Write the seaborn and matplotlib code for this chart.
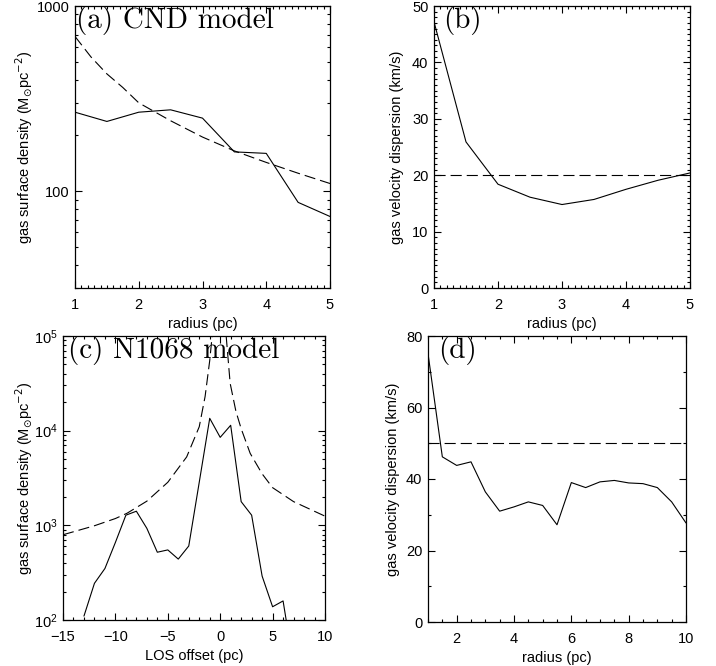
import matplotlib
matplotlib.use('Agg')
import matplotlib.pyplot as plt
from matplotlib import ticker
import seaborn as sns

# ---- panel (a): CND model, surface density ----
radius_a = [1.0, 1.5, 2.0, 2.5, 3.0, 3.5, 4.0, 4.5, 5.0]
sigma_a = [267, 238, 267, 275, 248, 163, 160, 87, 73]
model_r_a = [1.0, 1.25, 1.5, 1.75, 2.0, 2.5, 3.0, 3.5, 4.0, 4.5, 5.0]
model_sigma_a = [685, 531, 430, 363, 300, 240, 196, 165, 143, 125, 110]

# ---- panel (b): CND model, velocity dispersion ----
radius_b = [1.0, 1.5, 2.0, 2.5, 3.0, 3.5, 4.0, 4.5, 5.0]
disp_b = [47.2, 25.9, 18.4, 16.1, 14.8, 15.7, 17.5, 19.1, 20.4]
disp_ref_b = 20

# ---- panel (c): N1068 model, surface density along LOS ----
offset_c = [-13, -12, -11, -10, -9, -8, -7, -6, -5, -4, -3, -2, -1,
            0, 1, 2, 3, 4, 5, 6, 7]
sigma_c = [110, 244, 350, 660, 1280, 1410, 930, 520, 550, 440, 605, 2850,
           13500, 8500, 11400, 1780, 1280, 291, 138, 159, 33]
model_left_x = [-15, -12, -10, -8.9, -7, -5, -3.2, -2, -1.44, -1.0, -0.77]
model_left_y = [795, 990, 1180, 1340, 1800, 2850, 5280, 11000, 23000, 55000, 100000]
model_right_x = [0.57, 0.95, 1.5, 2.0, 2.86, 4, 5, 7, 10]
model_right_y = [100000, 31600, 16000, 10500, 5760, 3500, 2500, 1780, 1250]

# ---- panel (d): N1068 model, velocity dispersion ----
radius_d = [1.0, 1.5, 2.0, 2.5, 3.0, 3.5, 4.0, 4.5, 5.0, 5.5, 6.0, 6.5,
            7.0, 7.5, 8.0, 8.5, 9.0, 9.5, 10.0]
disp_d = [75.1, 46.2, 43.8, 44.8, 36.4, 31.0, 32.2, 33.6, 32.6, 27.2, 39.0,
          37.6, 39.2, 39.6, 38.9, 38.7, 37.6, 33.6, 27.7]
disp_ref_d = 50

sns.set_theme(style='white', rc={
    'axes.edgecolor': 'black',
    'axes.linewidth': 0.9,
    'xtick.color': 'black',
    'ytick.color': 'black',
    'axes.labelcolor': 'black',
    'text.color': 'black',
    'lines.scale_dashes': False,
})
plt.rcParams['font.family'] = ['Liberation Sans', 'DejaVu Sans']

LW = 0.8
DASH = (0, (8, 3.6))
SURF_LABEL = r'gas surface density (M$_{\odot}$pc$^{-2}$)'
DISP_LABEL = 'gas velocity dispersion (km/s)'

fig = plt.figure(figsize=(7.16, 6.66), dpi=100)
W, H = 716, 666


def add_ax(x0, y0, x1, y1):
    return fig.add_axes([x0 / W, 1 - y1 / H, (x1 - x0) / W, (y1 - y0) / H])


def style(ax, ylab_x):
    ax.tick_params(which='both', direction='in', top=True, right=True,
                   bottom=True, left=True, labelsize=10.5, width=0.8)
    ax.tick_params(which='major', length=5)
    ax.tick_params(which='minor', length=2.5)
    ax.tick_params(axis='x', pad=7)
    ax.tick_params(axis='y', pad=4)
    for s in ax.spines.values():
        s.set_visible(True)
    ax.yaxis.set_label_coords(ylab_x, 0.5)


def panel_label(ax, text, dx):
    ax.text(dx, 1.0, text, transform=ax.transAxes, ha='left', va='top',
            fontsize=21, family='cmr10')


ax_a = add_ax(75, 6, 330, 288)
ax_b = add_ax(434, 6, 690, 288)
ax_c = add_ax(63, 336, 325, 620)
ax_d = add_ax(428, 336, 686, 622)

# (a)
ax_a.set_yscale('log')
sns.lineplot(x=radius_a, y=sigma_a, ax=ax_a, color='black', lw=LW)
sns.lineplot(x=model_r_a, y=model_sigma_a, ax=ax_a, color='black', lw=LW,
             linestyle=DASH)
ax_a.set_xlim(1, 5)
ax_a.set_ylim(30, 1000)
ax_a.xaxis.set_major_locator(ticker.MultipleLocator(1))
ax_a.xaxis.set_minor_locator(ticker.MultipleLocator(0.1))
ax_a.yaxis.set_major_locator(ticker.FixedLocator([100, 1000]))
ax_a.yaxis.set_major_formatter(ticker.FormatStrFormatter('%d'))
ax_a.yaxis.set_minor_locator(ticker.LogLocator(subs=range(2, 10)))
ax_a.yaxis.set_minor_formatter(ticker.NullFormatter())
ax_a.set_xlabel('radius (pc)', fontsize=10.5, labelpad=4)
ax_a.set_ylabel(SURF_LABEL, fontsize=10.5)
style(ax_a, -0.155)
panel_label(ax_a, '(a) CND model', 0.003)

# (b)
sns.lineplot(x=radius_b, y=disp_b, ax=ax_b, color='black', lw=LW)
ax_b.axhline(disp_ref_b, color='black', lw=LW, linestyle=DASH)
ax_b.set_xlim(1, 5)
ax_b.set_ylim(0, 50)
ax_b.xaxis.set_major_locator(ticker.MultipleLocator(1))
ax_b.xaxis.set_minor_locator(ticker.MultipleLocator(0.1))
ax_b.yaxis.set_major_locator(ticker.MultipleLocator(10))
ax_b.yaxis.set_minor_locator(ticker.MultipleLocator(1))
ax_b.set_xlabel('radius (pc)', fontsize=10.5, labelpad=4)
ax_b.set_ylabel(DISP_LABEL, fontsize=10.5)
style(ax_b, -0.117)
panel_label(ax_b, '(b)', 0.035)

# (c)
ax_c.set_yscale('log')
sns.lineplot(x=offset_c, y=sigma_c, ax=ax_c, color='black', lw=LW)
sns.lineplot(x=model_left_x, y=model_left_y, ax=ax_c, color='black', lw=LW,
             linestyle=DASH)
sns.lineplot(x=model_right_x, y=model_right_y, ax=ax_c, color='black', lw=LW,
             linestyle=DASH)
ax_c.set_xlim(-15, 10)
ax_c.set_ylim(100, 1e5)
ax_c.xaxis.set_major_locator(ticker.MultipleLocator(5))
ax_c.xaxis.set_minor_locator(ticker.MultipleLocator(1))
ax_c.yaxis.set_minor_locator(ticker.LogLocator(subs=range(2, 10)))
ax_c.yaxis.set_minor_formatter(ticker.NullFormatter())
ax_c.set_xlabel('LOS offset (pc)', fontsize=10.5, labelpad=4)
ax_c.set_ylabel(SURF_LABEL, fontsize=10.5)
style(ax_c, -0.108)
panel_label(ax_c, '(c) N1068 model', 0.018)

# (d)
sns.lineplot(x=radius_d, y=disp_d, ax=ax_d, color='black', lw=LW)
ax_d.axhline(disp_ref_d, color='black', lw=LW, linestyle=DASH)
ax_d.set_xlim(1, 10)
ax_d.set_ylim(0, 80)
ax_d.xaxis.set_major_locator(ticker.MultipleLocator(2))
ax_d.xaxis.set_minor_locator(ticker.MultipleLocator(0.5))
ax_d.yaxis.set_major_locator(ticker.MultipleLocator(20))
ax_d.yaxis.set_minor_locator(ticker.MultipleLocator(10))
ax_d.set_xlabel('radius (pc)', fontsize=10.5, labelpad=4)
ax_d.set_ylabel(DISP_LABEL, fontsize=10.5)
style(ax_d, -0.108)
panel_label(ax_d, '(d)', 0.04)

fig.savefig('out.png', dpi=100, facecolor='white')
